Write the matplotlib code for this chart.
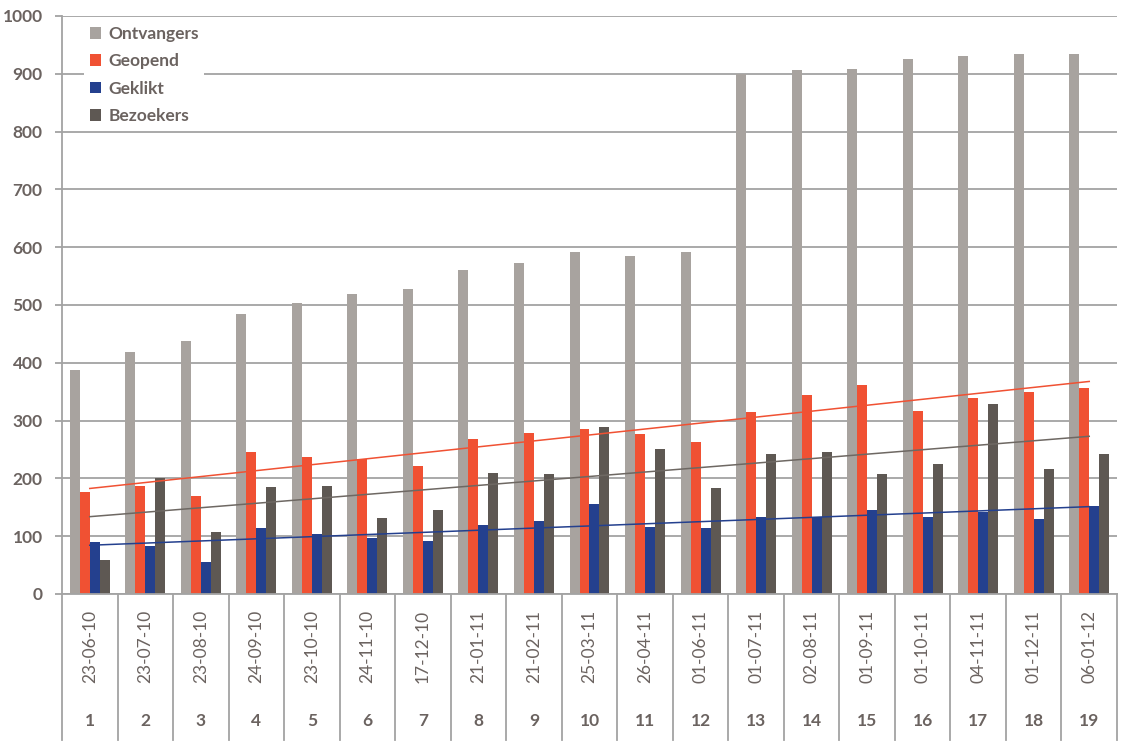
import matplotlib.pyplot as plt
import numpy as np

plt.rcParams['font.family'] = ['Lato', 'DejaVu Sans']

# data
dates = ["23-06-10", "23-07-10", "23-08-10", "24-09-10", "23-10-10", "24-11-10",
         "17-12-10", "21-01-11", "21-02-11", "25-03-11", "26-04-11", "01-06-11",
         "01-07-11", "02-08-11", "01-09-11", "01-10-11", "04-11-11", "01-12-11",
         "06-01-12"]
nums = list(range(1, 20))
ontvangers = [388, 418, 438, 485, 504, 519, 527, 561, 573, 592, 585, 592,
              900, 906, 908, 926, 930, 935, 935]
geopend = [177, 187, 170, 246, 237, 233, 222, 268, 279, 286, 276, 263,
           315, 345, 362, 317, 339, 350, 356]
geklikt = [90, 83, 55, 114, 104, 97, 91, 120, 127, 156, 116, 115,
           133, 134, 145, 133, 142, 130, 152]
bezoekers = [59, 200, 107, 185, 187, 132, 146, 210, 207, 289, 250, 184,
             243, 245, 207, 225, 329, 216, 242]

series = [("Ontvangers", ontvangers, "#a8a39f"),
          ("Geopend", geopend, "#f05133"),
          ("Geklikt", geklikt, "#24408e"),
          ("Bezoekers", bezoekers, "#5e5853")]
trend_colors = {"Geopend": "#f05133", "Geklikt": "#24408e", "Bezoekers": "#6e6863"}

text_col = "#6b6360"
grid_col = "#a3a3a3"

fig = plt.figure(figsize=(11.31, 7.43), dpi=100)
ax = fig.add_axes([62 / 1131, 1 - 594 / 743, (1117 - 62) / 1131, (594 - 16) / 743])

x = np.array(nums, dtype=float)
w = 0.18
for k, (name, vals, col) in enumerate(series):
    ax.bar(x + (k - 1.5) * w, vals, width=w, color=col, label=name, zorder=2)

# linear trendlines
for name, vals, col in series:
    if name in trend_colors:
        a, b = np.polyfit(x, vals, 1)
        ax.plot([x[0], x[-1]], [a * x[0] + b, a * x[-1] + b],
                color=trend_colors[name], lw=1.1, zorder=3)

ax.set_xlim(0.5, 19.5)
ax.set_ylim(0, 1000)
ax.set_yticks(range(0, 1001, 100))
ax.yaxis.grid(True, color=grid_col, lw=1.3, zorder=0)
ax.set_axisbelow(True)
ax.tick_params(axis='y', length=5, color=grid_col, width=1.3, pad=9,
               labelsize=12.5, labelcolor=text_col)
for lab in ax.get_yticklabels():
    lab.set_fontweight('bold')
ax.set_xticks([])
for s in ['top', 'right']:
    ax.spines[s].set_visible(False)
ax.spines['bottom'].set_color(grid_col)
ax.spines['bottom'].set_linewidth(1.3)
ax.spines['left'].set_visible(False)

# category separators extending down through the label area
trans = ax.get_xaxis_transform()
for b in np.arange(0.5, 20.0, 1.0):
    top = 1.0 if b == 0.5 else 0.0
    ax.plot([b, b], [top, -0.253], transform=trans, color=grid_col, lw=1.3,
            clip_on=False, zorder=1)

for xi, d, n in zip(x, dates, nums):
    ax.text(xi, -0.09, d, transform=trans, rotation=90, ha='center', va='center',
            fontsize=12.5, color=text_col)
    ax.text(xi, -0.219, str(n), transform=trans, ha='center', va='center',
            fontsize=12.5, fontweight='bold', color=text_col)

leg = ax.legend(loc='upper left', bbox_to_anchor=(0.013, 1.007), frameon=True,
                fancybox=False, edgecolor='none', facecolor='white', framealpha=1,
                handlelength=0.65, handleheight=0.65, handletextpad=0.45,
                labelspacing=0.66, fontsize=12.5, borderpad=0.3)
for t in leg.get_texts():
    t.set_color(text_col)
    t.set_fontweight('bold')

fig.savefig("out.png", dpi=100)
